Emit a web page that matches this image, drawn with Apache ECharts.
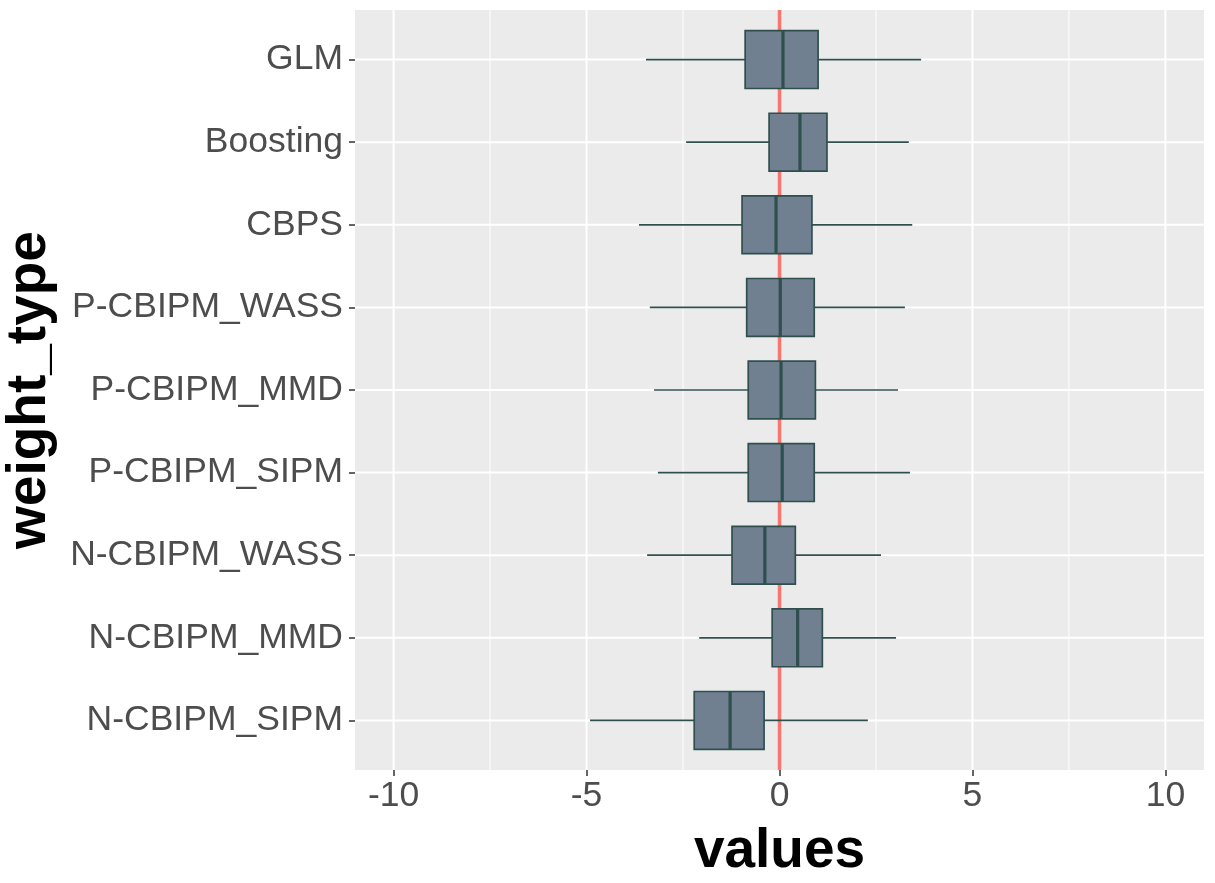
<!DOCTYPE html>
<html>
<head>
<meta charset="utf-8">
<script src="https://cdn.jsdelivr.net/npm/echarts@6/dist/echarts.min.js"></script>
<style>
html,body{margin:0;padding:0;background:#fff;}
#chart{width:1215px;height:883px;}
</style>
</head>
<body>
<div id="chart"></div>
<script>
const categories = ['GLM','Boosting','CBPS','P-CBIPM_WASS','P-CBIPM_MMD','P-CBIPM_SIPM','N-CBIPM_WASS','N-CBIPM_MMD','N-CBIPM_SIPM'];
const whiskerLow  = [-3.46,-2.42,-3.64,-3.36,-3.25,-3.15,-3.43,-2.08,-4.91];
const q1          = [-0.89,-0.27,-0.97,-0.85,-0.81,-0.81,-1.23,-0.19,-2.21];
const median      = [ 0.09, 0.53,-0.09, 0.02, 0.04, 0.07,-0.38, 0.47,-1.28];
const q3          = [ 1.00, 1.23, 0.84, 0.90, 0.93, 0.90, 0.41, 1.11,-0.40];
const whiskerHigh = [ 3.67, 3.35, 3.44, 3.25, 3.07, 3.38, 2.63, 3.02, 2.29];
const xTicks = [-10,-5,0,5,10];
const xMinorTicks = [-7.5,-2.5,2.5,7.5];
const refLine = [0];

const FONT = "'Liberation Sans', Arial, sans-serif";
const catIdx = categories.map((c,i)=>i);

const chart = echarts.init(document.getElementById('chart'), null, {renderer:'canvas'});

function vLineSeries(values, width, color, z) {
  return {
    type:'custom', z:z, silent:true, clip:true,
    data: values.map(v=>[v, 0]),
    encode:{x:0, y:1},
    renderItem(params, api){
      const cs = params.coordSys;
      const x = api.coord([api.value(0), 0])[0];
      return {type:'line', shape:{x1:x, y1:cs.y, x2:x, y2:cs.y+cs.height},
              style:{stroke:color, lineWidth:width}};
    }
  };
}

const option = {
  animation:false,
  backgroundColor:'#ffffff',
  grid:{left:355, right:11, top:10, bottom:113, show:true, backgroundColor:'#EBEBEB', borderWidth:0,
        containLabel:false, outerBoundsMode:'none'},
  xAxis:{
    type:'value', min:-11, max:11,
    name:'values', nameLocation:'middle', nameGap:54,
    nameTextStyle:{fontSize:55, fontWeight:'bold', color:'#000', fontFamily:FONT},
    axisLine:{show:false, onZero:false},
    axisTick:{show:true, customValues:xTicks, length:6, lineStyle:{color:'#333333', width:1.5}},
    axisLabel:{customValues:xTicks, fontSize:35.5, color:'#4D4D4D', fontFamily:FONT, margin:8},
    splitLine:{show:false}
  },
  yAxis:{
    type:'value', min:-0.6, max:8.6, inverse:true,
    name:'weight_type', nameLocation:'middle', nameRotate:90, nameGap:298,
    nameTextStyle:{fontSize:55, fontWeight:'bold', color:'#000', fontFamily:FONT},
    axisLine:{show:false, onZero:false},
    axisTick:{show:true, customValues:catIdx, length:6, lineStyle:{color:'#333333', width:1.5}},
    axisLabel:{customValues:catIdx, fontSize:35.5, color:'#4D4D4D', fontFamily:FONT, margin:12,
               formatter:v=>categories[Math.round(v)]},
    splitLine:{show:false}
  },
  series:[
    vLineSeries(xMinorTicks, 1, '#FFFFFF', 1),
    vLineSeries(xTicks, 2, '#FFFFFF', 1),
    {
      type:'custom', z:1, silent:true,
      data: catIdx.map(i=>[0, i]),
      encode:{x:0, y:1},
      renderItem(params, api){
        const cs = params.coordSys;
        const y = api.coord([0, api.value(1)])[1];
        return {type:'line', shape:{x1:cs.x, y1:y, x2:cs.x+cs.width, y2:y},
                style:{stroke:'#FFFFFF', lineWidth:2}};
      }
    },
    vLineSeries(refLine, 3.5, '#F8766D', 2),
    {
      type:'custom', z:3, silent:true,
      data: catIdx.map(i=>[i, whiskerLow[i], q1[i], median[i], q3[i], whiskerHigh[i]]),
      encode:{y:0, x:[1,2,3,4,5]},
      renderItem(params, api){
        const i = api.value(0);
        const yc = api.coord([0, i])[1];
        const band = Math.abs(api.size([0,1])[1]);
        const h = band*0.7;
        const xLo = api.coord([api.value(1), i])[0];
        const xQ1 = api.coord([api.value(2), i])[0];
        const xMed = api.coord([api.value(3), i])[0];
        const xQ3 = api.coord([api.value(4), i])[0];
        const xHi = api.coord([api.value(5), i])[0];
        const stroke = '#2F4F4F';
        return {type:'group', children:[
          {type:'line', shape:{x1:xLo, y1:yc, x2:xQ1, y2:yc}, style:{stroke, lineWidth:1.7}},
          {type:'line', shape:{x1:xQ3, y1:yc, x2:xHi, y2:yc}, style:{stroke, lineWidth:1.7}},
          {type:'rect', shape:{x:xQ1, y:yc-h/2, width:xQ3-xQ1, height:h},
            style:{fill:'#708090', stroke, lineWidth:1.7}},
          {type:'line', shape:{x1:xMed, y1:yc-h/2, x2:xMed, y2:yc+h/2}, style:{stroke, lineWidth:3.2}}
        ]};
      }
    }
  ]
};
chart.setOption(option);
</script>
</body>
</html>
